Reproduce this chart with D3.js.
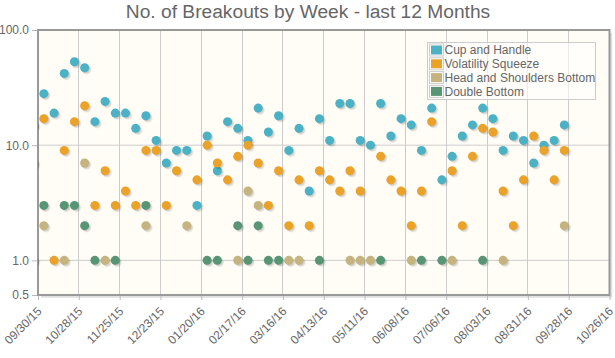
<!DOCTYPE html>
<html><head><meta charset="utf-8">
<script src="https://cdn.jsdelivr.net/npm/d3@7"></script>
<style>
body{margin:0;background:#fff}
svg{display:block}
text{font-family:"Liberation Sans",Arial,sans-serif}
</style>
</head><body>
<svg id="chart" width="615" height="358"></svg>
<script>
const chartTitle = "No. of Breakouts by Week - last 12 Months";
const weeks = ["2015-09-27","2015-10-04","2015-10-11","2015-10-18","2015-10-25","2015-11-01","2015-11-08","2015-11-15","2015-11-22","2015-11-29",
  "2015-12-06","2015-12-13","2015-12-20","2015-12-27","2016-01-03","2016-01-10","2016-01-17","2016-01-24","2016-01-31","2016-02-07",
  "2016-02-14","2016-02-21","2016-02-28","2016-03-06","2016-03-13","2016-03-20","2016-03-27","2016-04-03","2016-04-10","2016-04-17",
  "2016-04-24","2016-05-01","2016-05-08","2016-05-15","2016-05-22","2016-05-29","2016-06-05","2016-06-12","2016-06-19","2016-06-26",
  "2016-07-03","2016-07-10","2016-07-17","2016-07-24","2016-07-31","2016-08-07","2016-08-14","2016-08-21","2016-08-28","2016-09-04",
  "2016-09-11","2016-09-18","2016-09-25"];
const cupAndHandle = [15,28,19,42,53,47,16,24,19,19, 14,18,11,7,9,9,3,12,6,16, 14,11,21,13,18,9,14,4,17,11, 23,23,11,10,23,12,17,15,9,21, 5,8,12,15,21,17,9,12,11,7, 10,11,15];
const volatilitySqueeze = [7,17,1,9,16,22,3,6,3,4, 3,9,9,3,6,null,5,10,7,5, 8,10,7,3,6,2,5,2,6,5, 4,6,4,null,8,5,4,2,4,16, null,6,2,8,14,13,4,2,5,12, 9,5,9];
const headAndShoulders = [null,2,null,1,null,7,null,1,null,null, null,2,null,null,null,2,null,null,null,null, 1,4,3,null,null,1,1,null,null,null, null,1,1,1,null,null,null,1,null,null, null,1,null,null,null,null,1,null,null,null, null,null,2];
const doubleBottom = [1,3,null,3,3,2,1,null,1,null, null,3,null,null,null,null,null,1,1,null, 2,1,2,1,1,null,null,null,1,null, null,null,null,null,1,null,null,null,1,null, 1,null,null,null,1,null,null,null,null,null, null,null,null];
const seriesNames = ["Cup and Handle","Volatility Squeeze","Head and Shoulders Bottom","Double Bottom"];
const seriesColors = ["#4bb2c5","#EAA228","#c5b47f","#579575"];
const xTickLabels = ["09/30/15","10/28/15","11/25/15","12/23/15","01/20/16","02/17/16","03/16/16","04/13/16","05/11/16","06/08/16","07/06/16","08/03/16","08/31/16","09/28/16","10/26/16"];
const yTickValues = [0.5,1,10,100];
const yTickLabels = ["0.5","1.0","10.0","100.0"];

const allSeries = [cupAndHandle, volatilitySqueeze, headAndShoulders, doubleBottom];

const L = 38, R = 609.5, T = 30, B = 295;
const svg = d3.select("#chart");
const parseISO = d3.timeParse("%Y-%m-%d");
const parseTick = d3.timeParse("%m/%d/%y");
const tickDates = xTickLabels.map(parseTick);

const x = d3.scaleTime().domain([tickDates[0], tickDates[tickDates.length-1]]).range([L, R]);
const y = d3.scaleLog().domain([0.5, 100]).range([B, T]);

// plot background
svg.append("rect").attr("x", L).attr("y", T).attr("width", R-L).attr("height", B-T).attr("fill", "#fffdf6");

// grid
const grid = svg.append("g");
tickDates.forEach((d,i) => {
  if (i === 0 || i === tickDates.length-1) return;
  grid.append("line").attr("x1", x(d)).attr("x2", x(d)).attr("y1", T).attr("y2", B)
    .attr("stroke", "#cccccc").attr("stroke-width", 1).attr("shape-rendering","crispEdges");
});
yTickValues.forEach(v => {
  if (v === 0.5 || v === 100) return;
  grid.append("line").attr("x1", L).attr("x2", R).attr("y1", y(v)).attr("y2", y(v))
    .attr("stroke", "#cccccc").attr("stroke-width", 1);
});

// border shadow
svg.append("path").attr("d", `M${R+1.5},${T+3}L${R+1.5},${B+1.5}L${L+3},${B+1.5}`)
  .attr("fill","none").attr("stroke","rgba(0,0,0,0.12)").attr("stroke-width",2.5);
// border
svg.append("rect").attr("x", L).attr("y", T).attr("width", R-L).attr("height", B-T)
  .attr("fill","none").attr("stroke","#999999").attr("stroke-width",2);

// axes ticks via d3 axes
const xAxis = d3.axisBottom(x).tickValues(tickDates).tickFormat((d,i)=>xTickLabels[i]).tickSize(4).tickPadding(3);
const gx = svg.append("g").attr("transform", `translate(0,${B+1})`).call(xAxis);
gx.select(".domain").remove();
gx.selectAll(".tick line").attr("stroke","#bbbbbb");
gx.selectAll(".tick text")
  .attr("font-size","12px").attr("fill","#666666")
  .attr("text-anchor","end")
  .attr("dy", null).attr("y", null)
  .attr("transform","translate(4,16) rotate(-45)");

const yAxis = d3.axisLeft(y).tickValues(yTickValues).tickFormat((d,i)=>yTickLabels[i]).tickSize(5).tickPadding(3);
const gy = svg.append("g").attr("transform", `translate(${L-1},0)`).call(yAxis);
gy.select(".domain").remove();
gy.selectAll(".tick line").attr("stroke","#bbbbbb");
gy.selectAll(".tick text").attr("font-size","12px").attr("fill","#666666");

// points
svg.append("clipPath").attr("id","pc").append("rect").attr("x", L).attr("y", 0).attr("width", 615-L).attr("height", 358);
const pts = svg.append("g").attr("clip-path","url(#pc)");
allSeries.forEach((vals, si) => {
  const data = vals.map((v,i)=>({d: parseISO(weeks[i]), v})).filter(p => p.v !== null);
  const g = pts.append("g");
  [3,2,1].forEach(k => {
    g.selectAll(null).data(data).enter().append("circle")
      .attr("cx", p => x(p.d) + 0.75*k).attr("cy", p => y(p.v) + 0.75*k)
      .attr("r", 4.5).attr("fill","rgba(0,0,0,0.07)");
  });
  g.selectAll(null).data(data).enter().append("circle")
    .attr("cx", p => x(p.d)).attr("cy", p => y(p.v))
    .attr("r", 4.5).attr("fill", seriesColors[si]);
});

// legend
const lg = svg.append("g");
lg.append("rect").attr("x", 427.5).attr("y", 42.5).attr("width", 168).attr("height", 57)
  .attr("fill","rgba(255,255,255,0.6)").attr("stroke","#cccccc").attr("stroke-width",1);
seriesNames.forEach((n,i) => {
  const cy = 50 + i*13.8;
  lg.append("rect").attr("x", 429.5).attr("y", cy-6).attr("width", 14).attr("height", 12)
    .attr("fill","none").attr("stroke","#cccccc").attr("stroke-width",1);
  lg.append("rect").attr("x", 431).attr("y", cy-4.5).attr("width", 11).attr("height", 9)
    .attr("fill", seriesColors[i]);
  lg.append("text").attr("x", 444.5).attr("y", cy+4.3).attr("font-size","12px").attr("fill","#666666").text(n);
});

// title
svg.append("text").attr("x", 308).attr("y", 18).attr("text-anchor","middle")
  .attr("font-size","19.2px").attr("fill","#666666").text(chartTitle);
</script>
</body></html>
